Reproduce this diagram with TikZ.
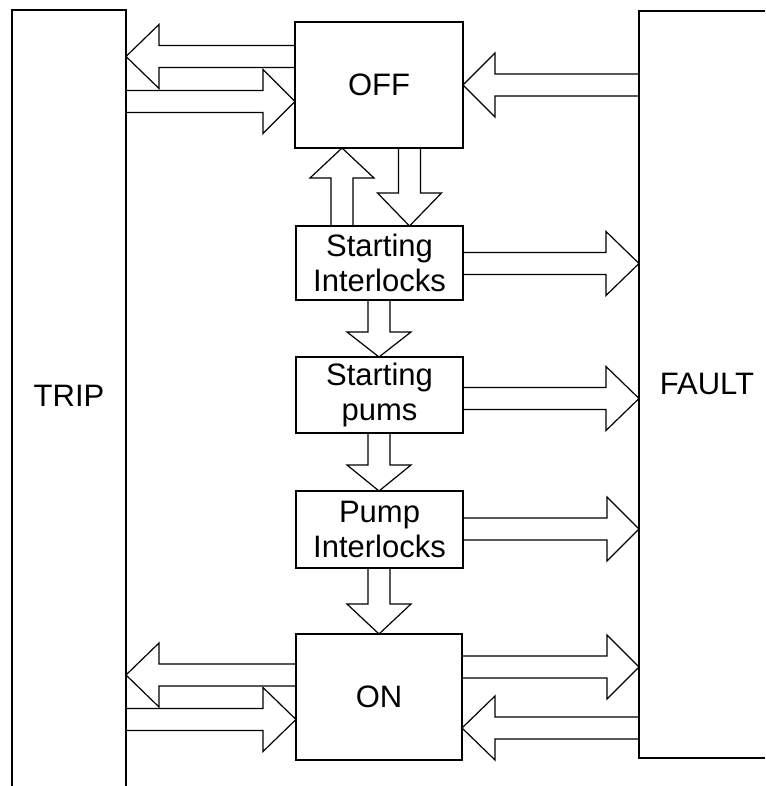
\documentclass[tikz,border=0pt]{standalone}
\usepackage{fontspec}
\setmainfont{Liberation Sans}
\usetikzlibrary{calc}
\tikzset{
  edge/.style={draw=black, line width=1.3pt},
  blk/.style={draw=black, line width=1.2pt, line join=miter},
  boxnode/.style={draw=black, line width=1.3pt, inner sep=0pt, outer sep=0pt,
    minimum width=167pt, align=center, font=\fontsize{31}{35}\selectfont},
  lbl/.style={font=\fontsize{31}{35}\selectfont, inner sep=0pt},
  ghost/.style={inner sep=0pt, outer sep=0pt},
}
% horizontal block arrow: #1 tail anchor, #2 tip anchor, #3 centre y, #4 signed head length
\newcommand\harrow[4]{%
  \draw[blk] let \p1=(#1), \p2=(#2) in
    (\x1,#3pt+11pt) -- (\x2-#4pt,#3pt+11pt) -- (\x2-#4pt,#3pt+32pt) -- (\x2,#3pt)
    -- (\x2-#4pt,#3pt-32pt) -- (\x2-#4pt,#3pt-11pt) -- (\x1,#3pt-11pt) -- cycle;}
% vertical block arrow: #1 tail anchor, #2 tip anchor, #3 centre x, #4 signed head length
\newcommand\varrow[4]{%
  \draw[blk] let \p1=(#1), \p2=(#2) in
    (#3pt-11pt,\y1) -- (#3pt-11pt,\y2-#4pt) -- (#3pt-32pt,\y2-#4pt) -- (#3pt,\y2)
    -- (#3pt+32pt,\y2-#4pt) -- (#3pt+11pt,\y2-#4pt) -- (#3pt+11pt,\y1) -- cycle;}
\begin{document}
\begin{tikzpicture}[x=1pt,y=1pt]
\useasboundingbox (0,0) rectangle (765,786);

% side columns
\node[ghost, minimum width=114pt, minimum height=776pt, anchor=south west] (trip) at (12,0) {};
\node[ghost, minimum width=126pt, minimum height=747pt, anchor=south west] (fault) at (639,28) {};
\draw[edge] (trip.south west) -- (trip.north west) -- (trip.north east) -- (trip.south east);
\draw[edge] (fault.north east) -- (fault.north west) -- (fault.south west) -- (fault.south east);
\node[lbl] (triptext) at (69,390) {TRIP};
\node[lbl] (faulttext) at (707,402) {FAULT};

% central boxes
\node[boxnode, minimum width=168pt, minimum height=126pt] (off) at (379,701) {OFF};
\node[boxnode, minimum height=74pt] (si) at (379.5,523) {Starting\\Interlocks};
\node[boxnode, minimum height=76pt] (sp) at (379.5,391) {Starting\\pums};
\node[boxnode, minimum height=77pt] (pi) at (379.5,256.5) {Pump\\Interlocks};
\node[boxnode, minimum width=166pt, minimum height=126pt] (on) at (379,89) {ON};

% OFF <-> TRIP, FAULT -> OFF
\harrow{off.west}{trip.east}{729.5}{-33}
\harrow{trip.east}{off.west}{684.5}{32}
\harrow{fault.west}{off.east}{701}{-32}

% OFF <-> Starting Interlocks
\varrow{si.north}{off.south}{342}{30}
\varrow{off.south}{si.north}{409.5}{-33}

% chain down
\varrow{si.south}{sp.north}{379}{-25}
\varrow{sp.south}{pi.north}{379}{-26}
\varrow{pi.south}{on.north}{379}{-30}

% to FAULT
\harrow{si.east}{fault.west}{522.5}{33}
\harrow{sp.east}{fault.west}{387.5}{33}
\harrow{pi.east}{fault.west}{257}{32}
\harrow{on.east}{fault.west}{119}{32}
\harrow{fault.west}{on.east}{58}{-33}

% ON <-> TRIP
\harrow{on.west}{trip.east}{111}{-33}
\harrow{trip.east}{on.west}{66.5}{33}
\end{tikzpicture}
\end{document}
